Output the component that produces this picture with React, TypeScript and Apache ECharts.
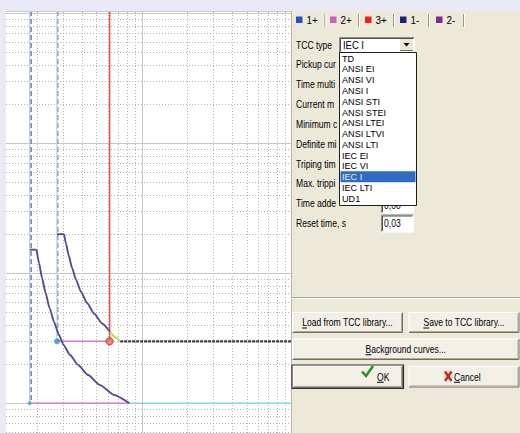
import React, { useEffect, useRef } from "react";
import * as echarts from "echarts";

const FONT = '"Liberation Sans", Arial, sans-serif';
const TEXT_SIZE = 10.2;
const TEXT_SX = 0.84;

// ---- axes (log-log TCC plot) ----
const xRange = [1.245, 100];
const yRange = [0.0591, 104.2];
const xDecades = [1, 10];
const yDecades = [0.01, 0.1, 1, 10];
const minorMultipliers = [2, 3, 4, 5, 6, 7, 8, 9];
const xMajor = [10, 100];
const yMajor = [0.1, 1, 10, 100];

// ---- curves (current multiple, time s) ----
const upperPlateau = [[2.725, 2.0], [3.034, 2.0]];
const upperCurve = [[3.034, 2.0], [3.129, 1.68], [3.251, 1.383], [3.43, 1.098], [3.648, 0.888], [3.938, 0.718], [4.318, 0.591], [4.808, 0.491], [5.436, 0.411], [6.148, 0.3535]];
const upperTail = [[6.148, 0.3535], [6.637, 0.3236], [7.166, 0.3]];
const lowerPlateau = [[1.8, 1.52], [1.99, 1.52]];
const lowerCurve = [[1.99, 1.52], [2.067, 1.2], [2.164, 0.92], [2.284, 0.7055], [2.428, 0.541], [2.602, 0.422], [2.788, 0.341], [3.01, 0.281], [3.327, 0.235], [3.761, 0.197], [4.385, 0.165], [5.272, 0.138], [6.536, 0.116], [8.265, 0.1]];

const pickupCyan = [1.79, 2.72];
const pickupDashed = [1.83, 2.76];
const pickupEnds = [0.1, 0.3];
const instPickup = 6.1;
const definiteTime = 0.3;
const minTime = 0.1;
const lowerEnd = 8.265;
const tailEnd = 7.166;

// ---- dialog content ----
const tabLabels = ["1+", "2+", "3+", "1-", "2-"];
const tabColors = ["#2a4fc4", "#cc5fc0", "#e52222", "#22227a", "#7a2a90"];
const fieldLabels = ["Pickup current, A", "Time multiplier", "Current multiplier", "Minimum current", "Definite minimum time", "Triping time", "Max. tripping time", "Time added, s", "Reset time, s"];
const tccTypes = ["TD", "ANSI EI", "ANSI VI", "ANSI I", "ANSI STI", "ANSI STEI", "ANSI LTEI", "ANSI LTVI", "ANSI LTI", "IEC EI", "IEC VI", "IEC I", "IEC LTI", "UD1"];
const selectedType = "IEC I";
const timeAddedValue = "0,00";
const resetTimeValue = "0,03";

let measureCtx: CanvasRenderingContext2D | null = null;
function measure(s: string, size = TEXT_SIZE): number {
  if (!measureCtx) measureCtx = document.createElement("canvas").getContext("2d");
  if (!measureCtx) return s.length * size * 0.55;
  measureCtx.font = `${size}px ${FONT}`;
  return measureCtx.measureText(s).width;
}

function txt(text: string, x: number, y: number, extra: any = {}, z = 110, size = TEXT_SIZE, sx = TEXT_SX) {
  return {
    type: "text",
    z,
    silent: true,
    x,
    y,
    scaleX: sx,
    style: { text, x: 0, y: 0, fill: "#000", fontSize: size, fontFamily: FONT, verticalAlign: "middle", align: "left", ...extra },
  };
}
function rect(x: number, y: number, w: number, h: number, fill: string, stroke?: string, lw = 1, z = 105) {
  return { type: "rect", z, silent: true, shape: { x, y, width: w, height: h }, style: { fill, stroke: stroke || null, lineWidth: lw } };
}
function ln(x1: number, y1: number, x2: number, y2: number, stroke: string, lw = 1, z = 106) {
  return { type: "line", z, silent: true, shape: { x1, y1, x2, y2 }, style: { stroke, lineWidth: lw } };
}
function poly(points: number[][], stroke: string, lw = 1, z = 106) {
  return { type: "polyline", z, silent: true, shape: { points }, style: { stroke, lineWidth: lw, fill: null } };
}

function sunken(x: number, y: number, w: number, h: number, z = 105) {
  return [
    rect(x, y, w, h, "#ffffff", undefined, 1, z),
    poly([[x, y + h], [x, y], [x + w, y]], "#8f8d82", 1, z + 1),
    poly([[x + 1, y + h - 1], [x + 1, y + 1], [x + w - 1, y + 1]], "#505050", 1, z + 1),
    poly([[x, y + h], [x + w, y + h], [x + w, y]], "#ffffff", 1, z + 1),
  ];
}

function button(x: number, y: number, w: number, h: number, label: string, opts: any = {}) {
  const els: any[] = [];
  els.push(rect(x, y, w, h, "#f2f0e6", undefined, 1, 105));
  els.push(poly([[x + 0.5, y + h - 0.5], [x + 0.5, y + 0.5], [x + w - 0.5, y + 0.5]], "#ffffff", 1));
  els.push(poly([[x + 0.5, y + h - 0.5], [x + w - 0.5, y + h - 0.5], [x + w - 0.5, y + 0.5]], "#716f64", 1));
  els.push(poly([[x + 1.5, y + h - 1.5], [x + w - 1.5, y + h - 1.5], [x + w - 1.5, y + 1.5]], "#aca899", 1));
  if (opts.isDefault) {
    els.push(rect(x - 0.5, y - 0.5, w + 1, h + 1, "none", "#303030", 1.2, 107));
  }
  const cy = y + h / 2;
  const full = measure(label) * TEXT_SX;
  const tx = opts.textX != null ? opts.textX : x + w / 2 - full / 2;
  els.push(txt(label, tx, cy));
  const first = measure(label[0]) * TEXT_SX;
  els.push(ln(tx, cy + 5.5, tx + first, cy + 5.5, "#000", 1, 111));
  return els;
}

function buildGraphic() {
  const g: any[] = [];
  g.push(ln(6, 11.5, 291, 11.5, "#c9c9d2", 1, 90));
  // panel
  g.push(rect(291, 11, 229, 422, "#ece9d8", undefined, 1, 100));
  g.push(ln(291.5, 11, 291.5, 433, "#b9b7aa", 1, 101));
  // tabs
  const tabSquareX = [296, 330, 365, 400, 436];
  const sepX = [325, 358.5, 393.5, 428.5, 463.5];
  tabLabels.forEach((l, i) => {
    g.push(rect(tabSquareX[i], 16.5, 6.5, 6.5, tabColors[i], undefined, 1, 108));
    g.push(txt(l, tabSquareX[i] + 10.5, 20.3, {}, 110, 11, 0.9));
    g.push(ln(sepX[i], 14, sepX[i], 27, "#9d9b8e", 1, 108));
    g.push(ln(sepX[i] + 1, 14, sepX[i] + 1, 27, "#ffffff", 1, 108));
  });
  // TCC type combo
  g.push(txt("TCC type", 296, 45));
  g.push(...sunken(339.5, 37.5, 75, 15));
  g.push(txt(selectedType, 343, 45.5, {}, 110, 10.5, 0.9));
  g.push(rect(400, 39, 13, 12, "#ece9d8", undefined, 1, 107));
  g.push(ln(400, 50.5, 413, 50.5, "#716f64", 1, 108));
  g.push({ type: "polygon", z: 109, silent: true, shape: { points: [[403.5, 43], [409.5, 43], [406.5, 46.5]] }, style: { fill: "#000" } });
  // field labels (clipped by the open list)
  fieldLabels.forEach((l, i) => {
    const y = 64.5 + i * 19.85;
    const hidden = i < 8;
    g.push(txt(l, 296, y, hidden ? { width: 43 / TEXT_SX, overflow: "truncate", ellipsis: "" } : {}));
  });
  // time added input (partly hidden)
  g.push(...sunken(381.5, 196, 32, 17));
  g.push(txt(timeAddedValue, 384, 205.5));
  // reset time input
  g.push(...sunken(381.5, 215, 32, 17));
  g.push(txt(resetTimeValue, 384, 223.5));
  // dropdown list
  g.push(rect(339.5, 52.5, 77, 153, "#ffffff", "#202020", 1, 120));
  tccTypes.forEach((t, i) => {
    const y = 58.3 + i * 10.77;
    const sel = t === selectedType;
    if (sel) g.push(rect(340.5, y - 5.4, 75, 10.8, "#316ac5", undefined, 1, 121));
    g.push(txt(t, 342, y + 0.3, { fill: sel ? "#e8f0ff" : "#000" }, 122, 9.6, 0.95));
  });
  // separator
  g.push(ln(291, 297.5, 520, 297.5, "#aca899", 1, 106));
  g.push(ln(291, 298.5, 520, 298.5, "#ffffff", 1, 106));
  // buttons
  g.push(...button(292, 312, 111, 21, "Load from TCC library..."));
  g.push(...button(408.5, 312, 111, 21, "Save to TCC library..."));
  g.push(...button(292, 338.5, 227.5, 21.5, "Background curves..."));
  g.push(...button(292.5, 365.5, 110.5, 22.5, "OK", { isDefault: true, textX: 377 }));
  g.push(poly([[362, 371.5], [366, 376], [373, 366]], "#2f8f2f", 2.6, 112));
  g.push(...button(408.5, 366, 111, 21.5, "Cancel", { textX: 454 }));
  g.push(ln(445, 371.5, 451.5, 381, "#d42020", 2.4, 112));
  g.push(ln(451.5, 371.5, 445, 381, "#d42020", 2.4, 112));
  return g;
}

function seg(data: number[][], color: string, width: number, type: any = "solid", smooth: any = false) {
  return {
    type: "line",
    data,
    silent: true,
    showSymbol: false,
    symbol: "none",
    smooth,
    smoothMonotone: "x",
    lineStyle: { color, width, type },
    z: 5,
  };
}

export default function App() {
  const ref = useRef<HTMLDivElement>(null);
  useEffect(() => {
    if (!ref.current) return;
    const chart = echarts.init(ref.current, undefined, { renderer: "svg" });
    const inX = (v: number) => v > xRange[0] && v < xRange[1];
    const inY = (v: number) => v > yRange[0] && v < yRange[1];
    const xMinor: number[] = [];
    xDecades.forEach((d) => minorMultipliers.forEach((k) => inX(d * k) && xMinor.push(d * k)));
    const yMinor: number[] = [];
    yDecades.forEach((d) => minorMultipliers.forEach((k) => inY(d * k) && yMinor.push(+(d * k).toPrecision(3))));
    const top = yRange[1];
    const right = xRange[1];

    const option: any = {
      animation: false,
      backgroundColor: "#e9eaf6",
      grid: { left: 6, top: 11, width: 286, height: 422, show: true, backgroundColor: "#ffffff", borderWidth: 0 },
      xAxis: { type: "log", min: xRange[0], max: xRange[1], show: false },
      yAxis: { type: "log", min: yRange[0], max: yRange[1], show: false },
      series: [
        {
          type: "line",
          data: [],
          silent: true,
          markLine: {
            silent: true,
            symbol: ["none", "none"],
            label: { show: false },
            animation: false,
            lineStyle: { color: "#b4b4b4", width: 1, type: [1, 2] },
            data: [...xMinor.map((v) => ({ xAxis: v })), ...yMinor.map((v) => ({ yAxis: v }))],
          },
        },
        {
          type: "line",
          data: [],
          silent: true,
          markLine: {
            silent: true,
            symbol: ["none", "none"],
            label: { show: false },
            animation: false,
            lineStyle: { color: "#c6c6c6", width: 1, type: "solid" },
            data: [...xMajor.filter(inX).map((v) => ({ xAxis: v })), ...yMajor.filter(inY).map((v) => ({ yAxis: v }))],
          },
        },
        // pickup verticals
        seg([[pickupCyan[0], top], [pickupCyan[0], pickupEnds[0]]], "#9fe0ea", 1.3),
        seg([[pickupCyan[1], top], [pickupCyan[1], pickupEnds[1]]], "#9fe0ea", 1.3),
        seg([[pickupDashed[0], top], [pickupDashed[0], pickupEnds[0]]], "#8a6a9c", 1.4, [5, 3]),
        seg([[pickupDashed[1], top], [pickupDashed[1], pickupEnds[1]]], "#b48cba", 1.3, [5, 3]),
        // instantaneous pickup
        seg([[instPickup, top], [instPickup, definiteTime]], "#e9553f", 1.5),
        // horizontals
        seg([[pickupCyan[1], definiteTime], [instPickup, definiteTime]], "#d27ccc", 1.6),
        seg([[pickupCyan[0], minTime], [lowerEnd, minTime]], "#d27ccc", 1.6),
        seg([[lowerEnd, minTime], [right, minTime]], "#7fdcd4", 1.6),
        seg([[tailEnd, definiteTime], [right, definiteTime]], "#3c3c3c", 2.2, [3, 1]),
        // curves
        seg(upperPlateau, "#50508c", 1.9),
        seg(upperCurve, "#50508c", 1.9, "solid", 0.2),
        seg(upperTail, "#b9dc6a", 2.2, "solid", 0.2),
        seg(lowerPlateau, "#50508c", 1.9),
        seg(lowerCurve, "#50508c", 1.9, "solid", 0.2),
        {
          type: "scatter",
          silent: true,
          z: 8,
          data: [
            { value: [pickupCyan[1], definiteTime], symbolSize: 6, itemStyle: { color: "#3f93c4" } },
            { value: [instPickup, definiteTime], symbolSize: 7, itemStyle: { color: "#f07060", borderColor: "#d03020", borderWidth: 1.2 } },
            { value: [pickupCyan[0], minTime], symbolSize: 4, itemStyle: { color: "#4aa6a6" } },
          ],
        },
      ],
      graphic: buildGraphic(),
    };
    chart.setOption(option);
    return () => chart.dispose();
  }, []);
  return <div ref={ref} style={{ position: "fixed", left: 0, top: 0, width: 520, height: 433 }} />;
}
